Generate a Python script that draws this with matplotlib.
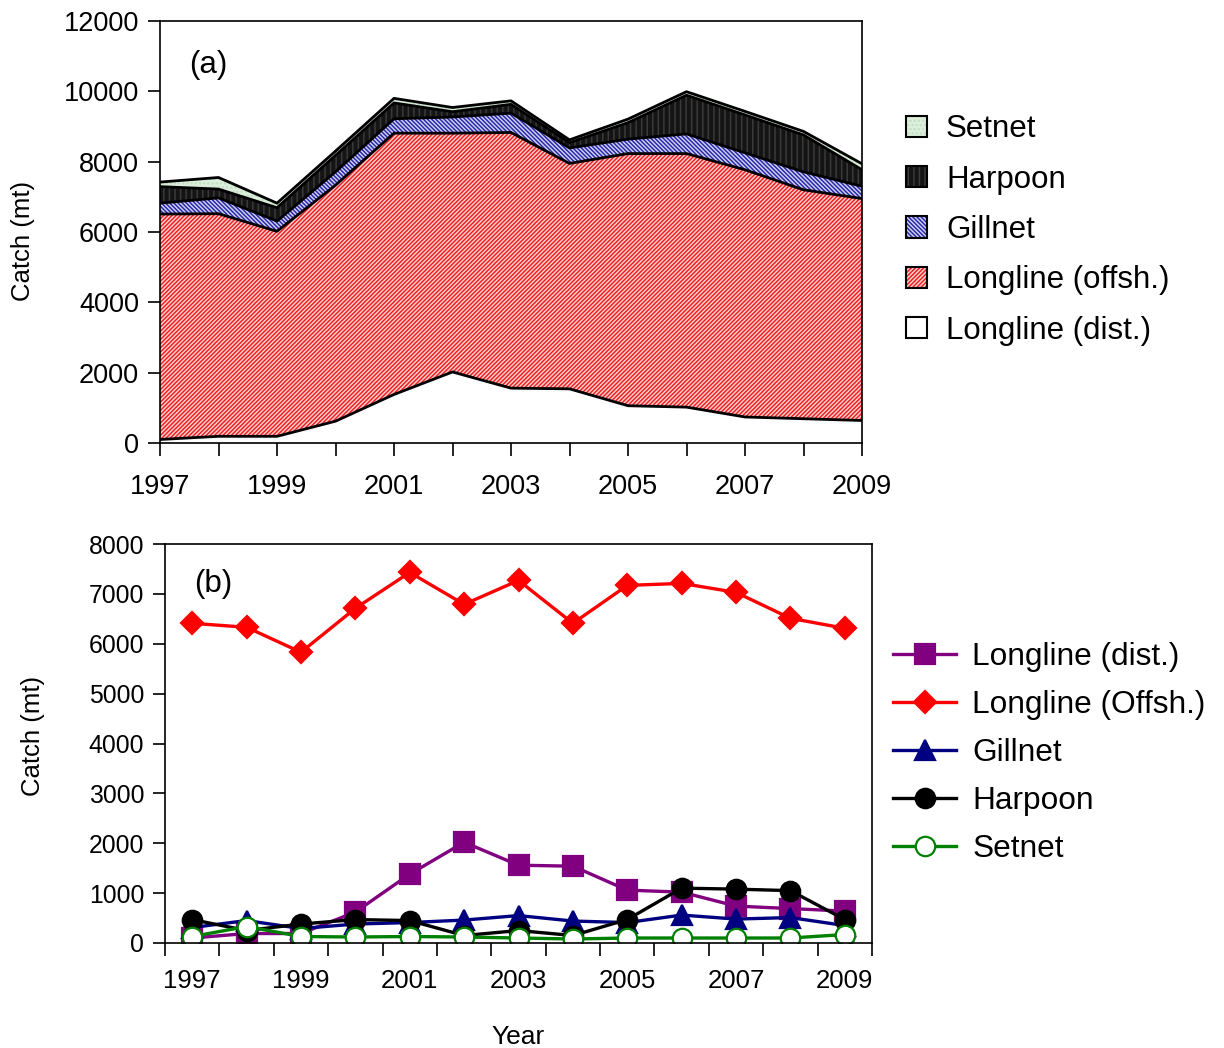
import numpy as np
import matplotlib
matplotlib.use("Agg")
import matplotlib.pyplot as plt
from matplotlib.patches import Patch
from matplotlib.legend_handler import HandlerTuple

plt.rcParams['font.family'] = ['Liberation Sans', 'DejaVu Sans']
plt.rcParams['hatch.linewidth'] = 1.1

years = list(range(1997, 2010))
longline_dist = [100, 190, 190, 620, 1380, 2020, 1560, 1540, 1060, 1020, 740, 690, 640]
longline_offsh = [6410, 6330, 5830, 6710, 7430, 6790, 7270, 6410, 7170, 7210, 7030, 6510, 6310]
gillnet = [310, 450, 290, 380, 410, 460, 550, 440, 410, 560, 480, 510, 350]
harpoon = [470, 250, 380, 470, 450, 150, 250, 150, 470, 1100, 1080, 1050, 470]
setnet = [130, 330, 130, 120, 130, 120, 100, 80, 100, 100, 100, 100, 170]

fig = plt.figure(figsize=(12.24, 10.48), dpi=100)

# ---- (a) stacked areas ----
ax1 = fig.add_axes([160 / 1224, 1 - 443 / 1048, 702 / 1224, 422 / 1048])

layers = [
    ("Longline (dist.)", longline_dist, 'white', None, 'white'),
    ("Longline (offsh.)", longline_offsh, '#ffd4d4', '////////', '#ee2222'),
    ("Gillnet", gillnet, '#d4d4f4', '\\\\\\\\\\\\\\\\', '#2a2aa8'),
    ("Harpoon", harpoon, '#141414', '|||', '#3a3a3a'),
    ("Setnet", setnet, '#dcefdc', '....', '#c4dcc4'),
]

x = np.array(years)
base = np.zeros(len(years))
handles = {}
for name, vals, fc, hatch, hc in layers:
    top = base + np.array(vals)
    ax1.fill_between(x, base, top, facecolor=fc, hatch=hatch, edgecolor=hc, linewidth=0)
    ax1.plot(x, top, color='black', lw=2.0, zorder=3)
    fill = Patch(facecolor=fc, hatch=hatch, edgecolor=hc, linewidth=0)
    frame = Patch(facecolor='none', edgecolor='black', linewidth=1.5)
    handles[name] = (fill, frame)
    base = top

ax1.set_xlim(1997, 2009)
ax1.set_ylim(0, 12000)
ax1.set_xticks(years, minor=True)
ax1.set_xticks(years[::2])
ax1.set_yticks(range(0, 12001, 2000))
ax1.tick_params(which='both', direction='out', length=9, width=1.2)
ax1.tick_params(axis='x', which='major', labelsize=19.5, pad=13)
ax1.tick_params(axis='y', labelsize=19.5, pad=6)
for s in ax1.spines.values():
    s.set_linewidth(1.2)
ax1.set_ylabel("Catch (mt)", fontsize=18.5)
ax1.yaxis.set_label_coords(-0.178, 0.48)
ax1.text(0.042, 0.877, "(a)", transform=ax1.transAxes, fontsize=22.5)

order = ["Setnet", "Harpoon", "Gillnet", "Longline (offsh.)", "Longline (dist.)"]
fig.legend([handles[n] for n in order], order,
           handler_map={tuple: HandlerTuple(ndivide=1, pad=0)},
           loc='center left', bbox_to_anchor=(906 / 1224, 1 - 230 / 1048),
           frameon=False, fontsize=22.5, handlelength=0.68, handleheight=0.68,
           handletextpad=0.6, labelspacing=0.65, borderpad=0, borderaxespad=0)

# ---- (b) lines ----
ax2 = fig.add_axes([165 / 1224, 1 - 943 / 1048, 707 / 1224, 399 / 1048])
pos = np.arange(len(years))

series = [
    ("Longline (dist.)", longline_dist, '#800080', 's', '#800080'),
    ("Longline (Offsh.)", longline_offsh, '#ff0000', 'D', '#ff0000'),
    ("Gillnet", gillnet, '#000080', '^', '#000080'),
    ("Harpoon", harpoon, '#000000', 'o', '#000000'),
    ("Setnet", setnet, '#008000', 'o', 'white'),
]
for name, vals, col, mk, mfc in series:
    ax2.plot(pos, vals, color=col, lw=2.4, marker=mk, markersize=14 if mk != 'D' else 11,
             markerfacecolor=mfc, markeredgecolor=col, markeredgewidth=1.6, label=name)

ax2.set_xlim(-0.5, len(years) - 0.5)
ax2.set_ylim(0, 8000)
ax2.set_yticks(range(0, 8001, 1000))
ax2.set_xticks(np.arange(-0.5, len(years), 1.0))
ax2.set_xticklabels([])
ax2.set_xticks(pos[::2], minor=True)
ax2.set_xticklabels([str(y) for y in years[::2]], minor=True)
ax2.tick_params(axis='x', which='major', direction='out', length=9, width=1.2)
ax2.tick_params(axis='x', which='minor', length=0, labelsize=18.5, pad=19)
ax2.tick_params(axis='y', direction='out', length=9, width=1.2, labelsize=17.8, pad=6)
for s in ax2.spines.values():
    s.set_linewidth(1.2)
ax2.set_ylabel("Catch (mt)", fontsize=18.5)
ax2.yaxis.set_label_coords(-0.17, 0.52)
ax2.set_xlabel("Year", fontsize=19, labelpad=23)
ax2.text(0.041, 0.88, "(b)", transform=ax2.transAxes, fontsize=22.5)

fig.legend(*ax2.get_legend_handles_labels(),
           loc='center left', bbox_to_anchor=(893 / 1224, 1 - 753 / 1048),
           frameon=False, fontsize=22.8, handlelength=2.0, handletextpad=0.5,
           labelspacing=0.57, borderpad=0, borderaxespad=0)

fig.savefig("out.png", dpi=100)
